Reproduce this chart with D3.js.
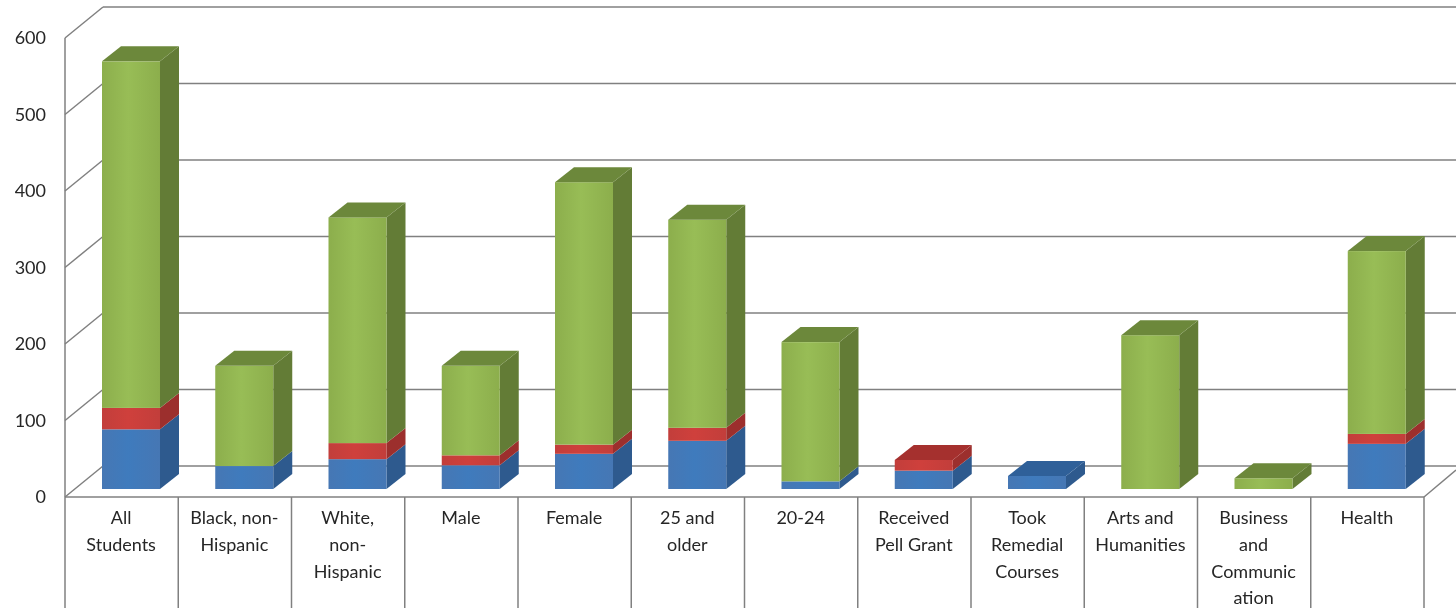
<!DOCTYPE html>
<html><head><meta charset="utf-8">
<style>html,body{margin:0;padding:0;background:#fff}svg{display:block;filter:blur(0.35px)}text{font-family:Lato,"Open Sans",sans-serif;fill:#262626}</style>
<script src="https://cdn.jsdelivr.net/npm/d3@7"></script></head><body>
<script>
const categories=[["All","Students"],["Black, non-","Hispanic"],["White,","non-","Hispanic"],["Male"],["Female"],["25 and","older"],["20-24"],["Received","Pell Grant"],["Took","Remedial","Courses"],["Arts and","Humanities"],["Business","and","Communic","ation"],["Health"]];
const blueValues=[78,30,39,31,46,63,10,24,17,0,0,59];
const redValues=[28,0,21,13,12,17,0,14,0,0,0,13];
const greenValues=[453,131,295,117,343,272,182,0,0,201,14,239];
const yTicks=[0,100,200,300,400,500,600];
const seriesColors=[
 {name:"blue",values:blueValues,light:"#3f7bbd",front:"#4677b4",side:"#2e5a8e",top:"#2f6099"},
 {name:"red",values:redValues,light:"#cf403c",front:"#c23e3b",side:"#9c2f2d",top:"#a5302e"},
 {name:"green",values:greenValues,light:"#98bd56",front:"#8cae4c",side:"#637c36",top:"#6c883b"}];

const W=1456,H=608;
const svg=d3.select("body").append("svg").attr("width",W).attr("height",H);
const ids=categories.map((d,i)=>i);
const x=d3.scaleBand().domain(ids).range([65,1424]);
const y=d3.scaleLinear().domain([0,600]).range([497,38]);
const wall={dx:38,dy:-31}, bar={dx:19,dy:-15,floor:-8,inset:37,w:58};
const grid="#808080";

const defs=svg.append("defs");
seriesColors.forEach(s=>{
 const g=defs.append("linearGradient").attr("id","f-"+s.name);
 g.selectAll("stop").data([[0,s.front],[.45,s.light],[1,s.front]]).join("stop")
  .attr("offset",d=>d[0]).attr("stop-color",d=>d[1]);
});

// walls
const gridG=svg.append("g").attr("fill","none").attr("stroke",grid).attr("stroke-width",1.5);
yTicks.forEach(t=>{
 gridG.append("line").attr("x1",x.range()[0]).attr("y1",y(t)).attr("x2",x.range()[0]+wall.dx).attr("y2",y(t)+wall.dy);
 gridG.append("line").attr("x1",x.range()[0]+wall.dx).attr("y1",y(t)+wall.dy).attr("x2",W).attr("y2",y(t)+wall.dy);
});
gridG.append("line").attr("x1",x.range()[1]).attr("y1",y(0)).attr("x2",W).attr("y2",y(0)-27);
gridG.append("line").attr("x1",x.range()[0]).attr("y1",y(0)).attr("x2",x.range()[1]).attr("y2",y(0));
gridG.append("line").attr("x1",x.range()[0]).attr("y1",y(600)).attr("x2",x.range()[0]).attr("y2",H);
[...ids,ids.length].forEach(i=>{
 const px=i<ids.length?x(i):x.range()[1];
 if(i>0) gridG.append("line").attr("x1",px).attr("y1",y(0)).attr("x2",px).attr("y2",H);
});

// y axis labels through d3 axis
const axis=d3.axisLeft(y).tickValues(yTicks).tickSize(0).tickPadding(0).tickFormat(d3.format("d"));
const ax=svg.append("g").attr("transform","translate(46,0)").call(axis);
ax.select(".domain").remove();
ax.selectAll("text").style("font-size","18px").attr("dy","0.32em");

// bars
ids.forEach(i=>{
 const x0=x(i)+bar.inset, x1=x0+bar.w;
 let cum=0, lastIdx=-1;
 seriesColors.forEach((s,k)=>{if(s.values[i]>0)lastIdx=k;});
 const g=svg.append("g");
 seriesColors.forEach((s,k)=>{
  const v=s.values[i];
  if(!v)return;
  const yb=y(cum)+bar.floor, yt=y(cum+v)+bar.floor;
  cum+=v;
  g.append("polygon").attr("fill",s.side)
   .attr("points",[[x1,yb],[x1+bar.dx,yb+bar.dy],[x1+bar.dx,yt+bar.dy],[x1,yt]].join(" "));
  g.append("rect").attr("x",x0).attr("y",yt).attr("width",bar.w).attr("height",yb-yt).attr("fill",`url(#f-${s.name})`);
  if(k===lastIdx) g.append("polygon").attr("fill",s.top)
   .attr("points",[[x0,yt],[x0+bar.dx,yt+bar.dy],[x1+bar.dx,yt+bar.dy],[x1,yt]].join(" "));
 });
});

// category labels
const lab=svg.append("g").attr("text-anchor","middle").style("font-size","18px");
categories.forEach((lines,i)=>{
 const cx=x(i)+x.bandwidth()/2-0.5;
 const t=lab.append("text").attr("x",cx).attr("y",524);
 lines.forEach((l,j)=>t.append("tspan").attr("x",cx).attr("y",524+j*26.8).text(l));
});
</script></body></html>
